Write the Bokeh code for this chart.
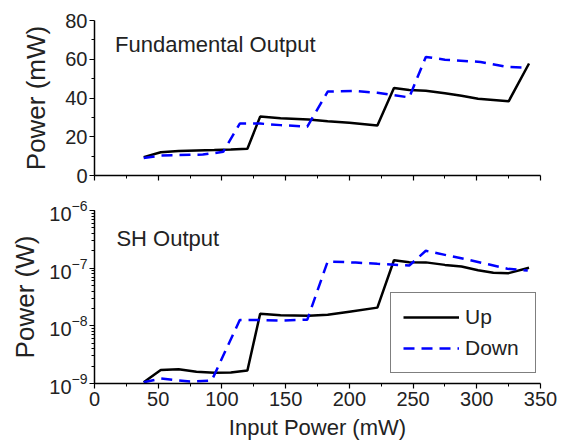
from bokeh.plotting import figure
from bokeh.layouts import column
from bokeh.models import Range1d, FixedTicker, Legend, LegendItem, Label
from bokeh.embed import file_html
from bokeh.resources import INLINE

# ---- data ----
up_x = [38.6, 52, 66, 80, 94, 107, 120, 130, 146, 168, 183, 200, 222,
        235, 247, 260, 275, 288, 301, 313, 325, 341]
up_fund = [9.5, 12.0, 12.6, 12.9, 13.1, 13.4, 13.8, 30.4, 29.5, 28.9, 28.0,
           27.2, 25.8, 45.2, 44.1, 43.8, 42.5, 41.2, 39.6, 39.0, 38.3, 57.8]
up_sh = [1.05e-9, 1.72e-9, 1.77e-9, 1.6e-9, 1.53e-9, 1.55e-9, 1.68e-9,
         1.62e-8, 1.53e-8, 1.49e-8, 1.55e-8, 1.76e-8, 2.07e-8,
         1.37e-7, 1.27e-7, 1.26e-7, 1.14e-7, 1.07e-7, 9.2e-8, 8.3e-8, 8.2e-8, 1.02e-7]

down_fund_x = [38.6, 52, 85, 101, 114, 130, 146, 167, 183, 205, 222, 247,
               260, 275, 303, 324, 340]
down_fund = [9.0, 10.3, 10.8, 12.2, 26.8, 26.8, 26.0, 25.2, 43.3, 43.6, 42.7,
             40.3, 61.2, 59.8, 58.6, 56.0, 55.6]

down_sh_x = [38.6, 52, 75, 92, 114, 130, 146, 167, 183, 205, 222, 247,
             260, 275, 293, 309, 324, 340]
down_sh = [1.05e-9, 1.22e-9, 1.08e-9, 1.13e-9, 1.26e-8, 1.26e-8, 1.23e-8, 1.28e-8,
           1.31e-7, 1.25e-7, 1.19e-7, 1.11e-7, 2.0e-7, 1.7e-7, 1.4e-7, 1.17e-7,
           9.8e-8, 9.1e-8]

x_ticks = [0, 50, 100, 150, 200, 250, 300, 350]
x_minor = [25, 75, 125, 175, 225, 275, 325]
fund_ticks = [0, 20, 40, 60, 80]
fund_minor = [10, 30, 50, 70]

FONT = "Liberation Sans"
TXT = "#222222"
BLUE = "#0000ff"


def style(p):
    p.outline_line_color = None
    p.background_fill_color = "white"
    p.border_fill_color = "white"
    p.xgrid.visible = False
    p.ygrid.visible = False
    for ax in (p.xaxis[0], p.yaxis[0]):
        ax.axis_line_width = 1.5
        ax.axis_line_color = "black"
        ax.major_tick_line_color = "black"
        ax.minor_tick_line_color = "black"
        ax.major_tick_line_width = 1.2
        ax.minor_tick_line_width = 1
        ax.major_tick_out = 5
        ax.major_tick_in = 0
        ax.minor_tick_out = 3
        ax.minor_tick_in = 0
        ax.major_label_text_font = FONT
        ax.major_label_text_font_size = "20px"
        ax.major_label_text_color = TXT
        ax.axis_label_text_font = FONT
        ax.axis_label_text_font_style = "normal"
        ax.axis_label_text_color = TXT
        ax.major_label_standoff = 2
    p.yaxis[0].axis_label_text_font_size = "26px"
    p.xaxis[0].axis_label_text_font_size = "22px"


# ---- top panel ----
p1 = figure(frame_width=446, frame_height=155, output_backend="svg",
            toolbar_location=None, x_range=Range1d(0, 350), y_range=Range1d(0, 80),
            min_border_left=94, min_border_right=20, min_border_top=20,
            min_border_bottom=15)
style(p1)
p1.xaxis.ticker = FixedTicker(ticks=x_ticks, minor_ticks=x_minor)
p1.xaxis.major_label_overrides = {t: "" for t in x_ticks}
p1.xaxis.major_label_standoff = 0
p1.yaxis.ticker = FixedTicker(ticks=fund_ticks, minor_ticks=fund_minor)
p1.yaxis.axis_label = "Power (mW)"
p1.yaxis.axis_label_standoff = 11

p1.line(up_x, up_fund, line_color="black", line_width=2.5)
p1.line(down_fund_x, down_fund, line_color=BLUE, line_width=2.5, line_dash="11 7")
p1.add_layout(Label(x=16.1, y=67.6, text="Fundamental Output", text_font=FONT,
                    text_font_size="22px", text_color=TXT,
                    text_baseline="alphabetic"))

# ---- bottom panel ----
p2 = figure(frame_width=446, frame_height=173, output_backend="svg",
            toolbar_location=None, x_range=Range1d(0, 350),
            y_range=Range1d(1e-9, 1e-6), y_axis_type="log",
            min_border_left=94, min_border_right=20, min_border_top=20,
            min_border_bottom=62)
style(p2)
p2.xaxis.ticker = FixedTicker(ticks=x_ticks, minor_ticks=x_minor)
p2.xaxis.major_label_standoff = 3
p2.xaxis.axis_label = "Input Power (mW)"
p2.xaxis.axis_label_standoff = 6
p2.yaxis.axis_label = "Power (W)"
p2.yaxis.axis_label_standoff = 6

r_up = p2.line(up_x, up_sh, line_color="black", line_width=2.5)
r_dn = p2.line(down_sh_x, down_sh, line_color=BLUE, line_width=2.5, line_dash="11 7")
p2.add_layout(Label(x=17.2, y=3.26e-7, text="SH Output", text_font=FONT,
                    text_font_size="22px", text_color=TXT,
                    text_baseline="alphabetic"))

legend = Legend(items=[LegendItem(label="Up", renderers=[r_up]),
                       LegendItem(label="Down", renderers=[r_dn])],
                location=(296, 10), glyph_width=56, glyph_height=20,
                label_height=20, label_width=58, label_standoff=6, spacing=7,
                padding=12, margin=0, border_line_color="black",
                border_line_width=1, label_text_font=FONT,
                label_text_font_size="21px", label_text_color=TXT,
                background_fill_alpha=1)
p2.add_layout(legend)

layout = column(p1, p2)
open("out.html", "w").write(file_html(layout, INLINE))
